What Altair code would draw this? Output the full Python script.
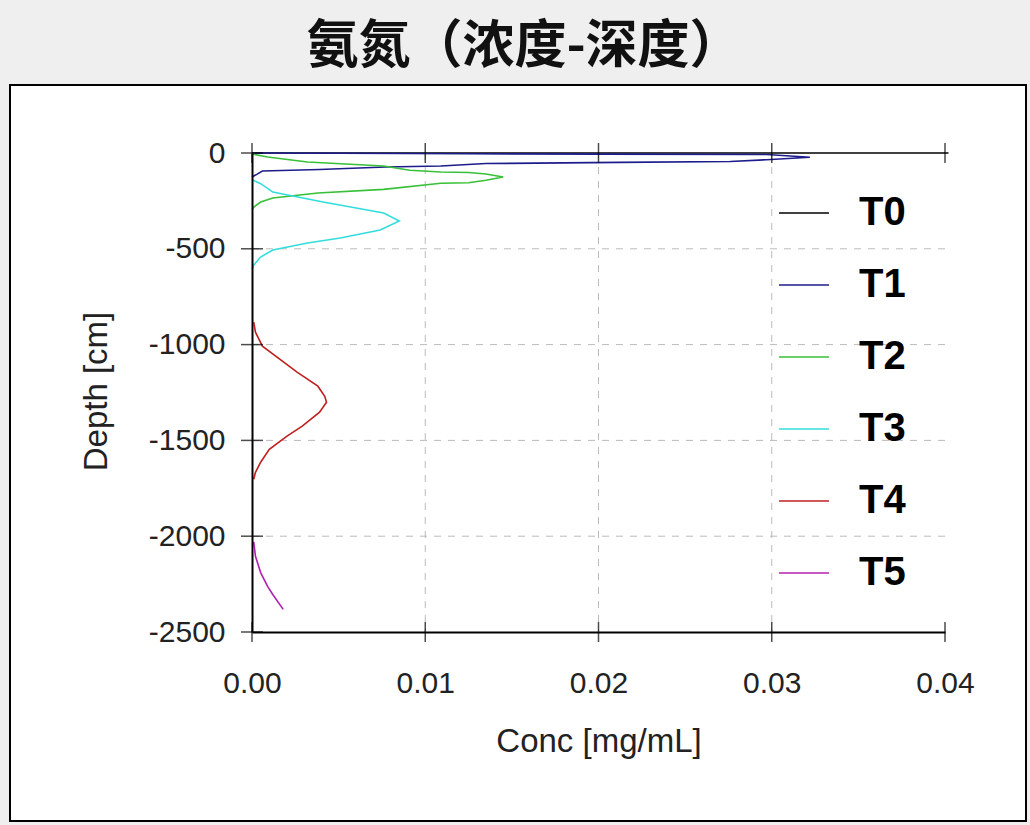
import altair as alt
import pandas as pd

SERIES = ["T0", "T1", "T2", "T3", "T4", "T5"]
COLORS = ["#000000", "#1c1c8c", "#38c038", "#33dddd", "#c02020", "#b020b0"]

T0_CONC = [0.0, 0.0402]
T0_DEPTH = [0, 0]

T1_CONC = [0.0000, 0.0003, 0.0006, 0.0039, 0.0077, 0.0109, 0.0135, 0.0212, 0.0276,
           0.0297, 0.0322, 0.0297, 0.0200, 0.0124, 0.0050, 0.0000]
T1_DEPTH = [-125, -110, -94, -86, -73, -68, -55, -49, -44, -35, -22, -8, -6, -4, -1, 0]

T2_CONC = [0.0000, 0.0009, 0.0032, 0.0076, 0.0091, 0.0109, 0.0125, 0.0135, 0.0145,
           0.0135, 0.0125, 0.0109, 0.0076, 0.0038, 0.0012, 0.0005, 0.0001, 0.0000]
T2_DEPTH = [-5, -21, -47, -68, -90, -99, -102, -110, -125,
            -142, -155, -158, -190, -209, -235, -256, -282, -297]

T3_CONC = [0.0000, 0.0005, 0.0012, 0.0041, 0.0076, 0.0085, 0.0074, 0.0051, 0.0032,
           0.0012, 0.0005, 0.0001, 0.0000]
T3_DEPTH = [-140, -160, -204, -256, -313, -355, -402, -444, -470,
            -506, -543, -585, -605]

T4_CONC = [0.0001, 0.0002, 0.0006, 0.0016, 0.0026, 0.0038, 0.0042, 0.0043, 0.0039,
           0.0029, 0.0020, 0.0010, 0.0005, 0.0002, 0.0001]
T4_DEPTH = [-883, -935, -1008, -1076, -1144, -1217, -1270, -1301, -1353,
            -1426, -1479, -1547, -1614, -1667, -1703]

T5_CONC = [0.0001, 0.0002, 0.0005, 0.0009, 0.0012, 0.0018]
T5_DEPTH = [-2030, -2105, -2190, -2262, -2304, -2382]

X_TICKS = [0.0, 0.01, 0.02, 0.03, 0.04]
Y_TICKS = [0, -500, -1000, -1500, -2000, -2500]
X_GRID = [0.01, 0.02, 0.03]
Y_GRID = [-500, -1000, -1500, -2000]

CONCS = [T0_CONC, T1_CONC, T2_CONC, T3_CONC, T4_CONC, T5_CONC]
DEPTHS = [T0_DEPTH, T1_DEPTH, T2_DEPTH, T3_DEPTH, T4_DEPTH, T5_DEPTH]

rows = []
for name, cs, ds in zip(SERIES, CONCS, DEPTHS):
    for i, (c, d) in enumerate(zip(cs, ds)):
        rows.append({"series": name, "conc": c, "depth": d, "idx": i})
df = pd.DataFrame(rows)

FONT = "Liberation Sans"
W, H = 693, 479

xscale = alt.Scale(domain=[0, 0.04], nice=False, zero=False)
yscale = alt.Scale(domain=[-2500, 0], nice=False, zero=False)

XAX = alt.Axis(
    values=X_TICKS, format=".2f", ticks=False, grid=False, zindex=2,
    domainColor="black", domainWidth=2,
    labelFont=FONT, labelFontSize=30, labelColor="#222", labelPadding=36,
    labelFlush=False, labelOverlap=False,
    title="Conc [mg/mL]", titleFont=FONT, titleFontSize=33,
    titleFontWeight="normal", titleColor="#222",
    titleY=109, titleBaseline="middle")

YAX = alt.Axis(
    values=Y_TICKS, ticks=False, grid=False, zindex=2,
    labelExpr="'' + datum.value",
    domainColor="black", domainWidth=2,
    labelFont=FONT, labelFontSize=30, labelColor="#222", labelPadding=27,
    labelOverlap=False,
    title="Depth [cm]", titleFont=FONT, titleFontSize=33,
    titleFontWeight="normal", titleColor="#222",
    titleX=-156, titleY=238, titleAngle=270,
    titleAlign="center", titleBaseline="middle")

frame = alt.Chart(pd.DataFrame({"a": [0]})).mark_rect(
    fill="white", stroke="black", strokeWidth=2
).encode(
    x=alt.value(-242), x2=alt.value(774), y=alt.value(-68), y2=alt.value(668)
)

hgrid = alt.Chart(pd.DataFrame({"v": Y_GRID})).mark_rule(
    color="#bbbbbb", strokeDash=[7, 7], strokeWidth=1
).encode(y=alt.Y("v:Q", scale=yscale, axis=YAX))

vgrid = alt.Chart(pd.DataFrame({"v": X_GRID})).mark_rule(
    color="#bbbbbb", strokeDash=[7, 7], strokeWidth=1
).encode(x=alt.X("v:Q", scale=xscale, axis=XAX))

lines = alt.Chart(df).mark_line(strokeWidth=1.6).encode(
    x=alt.X("conc:Q", scale=xscale, axis=XAX),
    y=alt.Y("depth:Q", scale=yscale, axis=YAX),
    color=alt.Color("series:N", scale=alt.Scale(domain=SERIES, range=COLORS),
                    legend=alt.Legend(
                        orient="none", legendX=526, legendY=34, title=None,
                        symbolType="stroke", symbolSize=2500, symbolStrokeWidth=1.6,
                        labelFont=FONT, labelFontSize=40, labelFontWeight="bold",
                        labelColor="black", labelOffset=29, rowPadding=26,
                        padding=0)),
    detail="series:N",
    order=alt.Order("idx:Q"),
)

xt_df = pd.DataFrame({"v": X_TICKS})
yt_df = pd.DataFrame({"v": Y_TICKS})

xticks_bottom = alt.Chart(xt_df).mark_tick(
    orient="vertical", size=20, thickness=1.5, color="black"
).encode(x=alt.X("v:Q", scale=xscale, axis=XAX),
         y=alt.YDatum(-2500, scale=yscale, axis=YAX))

xticks_top = alt.Chart(xt_df).mark_tick(
    orient="vertical", size=20, thickness=1.5, color="black"
).encode(x=alt.X("v:Q", scale=xscale, axis=XAX),
         y=alt.YDatum(0, scale=yscale, axis=YAX))

yticks = alt.Chart(yt_df).mark_tick(
    orient="horizontal", size=22, thickness=1.5, color="black"
).encode(y=alt.Y("v:Q", scale=yscale, axis=YAX),
         x=alt.XDatum(0, scale=xscale, axis=XAX))

chart = alt.layer(
    frame, hgrid, vgrid, lines, xticks_bottom, xticks_top, yticks
).properties(
    width=W, height=H,
    title=alt.Title("氨氮（浓度-深度）", font="Noto Sans CJK SC", fontSize=52,
                    fontWeight="bold", color="#111", anchor="middle",
                    frame="bounds", offset=10, dx=6),
    autosize=alt.AutoSizeParams(type="none"),
    padding={"left": 252, "top": 153, "right": 85, "bottom": 193},
).configure(background="#efefef").configure_view(stroke=None)

chart.save("out.html", embed_options={"renderer": "svg", "actions": False})
